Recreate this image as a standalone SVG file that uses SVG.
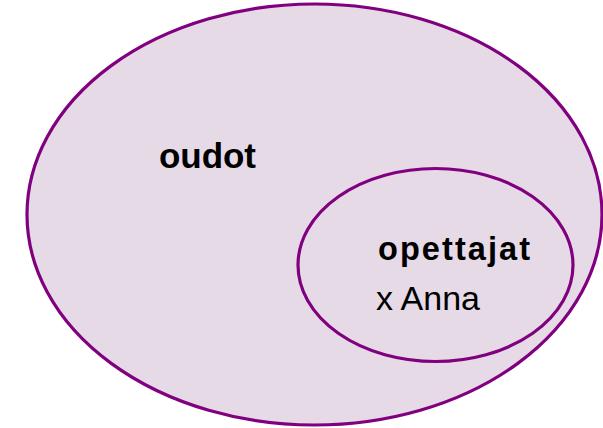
<svg xmlns="http://www.w3.org/2000/svg" width="603" height="428" viewBox="0 0 603 428">
<style>
.set{fill:#e6dae7;stroke:#800080;stroke-width:3.2}
.b{font-family:"Liberation Sans",Arial,sans-serif;font-weight:bold;fill:#000}
.r{font-family:"Liberation Sans",Arial,sans-serif;fill:#000}
</style>
<rect width="603" height="428" fill="#fff"/>
<g id="oudot">
<ellipse class="set" cx="314.5" cy="214.5" rx="287.5" ry="210.5"/>
<text class="b" x="159" y="168" font-size="35" textLength="97" lengthAdjust="spacing">oudot</text>
</g>
<g id="opettajat">
<ellipse class="set" cx="435.5" cy="265" rx="137.5" ry="96.5"/>
<text class="b" x="378" y="260" font-size="32.5" textLength="152" lengthAdjust="spacing">opettajat</text>
<text class="r" x="376" y="309.5" font-size="34">x Anna</text>
</g>
<g id="connectors"/>
</svg>
